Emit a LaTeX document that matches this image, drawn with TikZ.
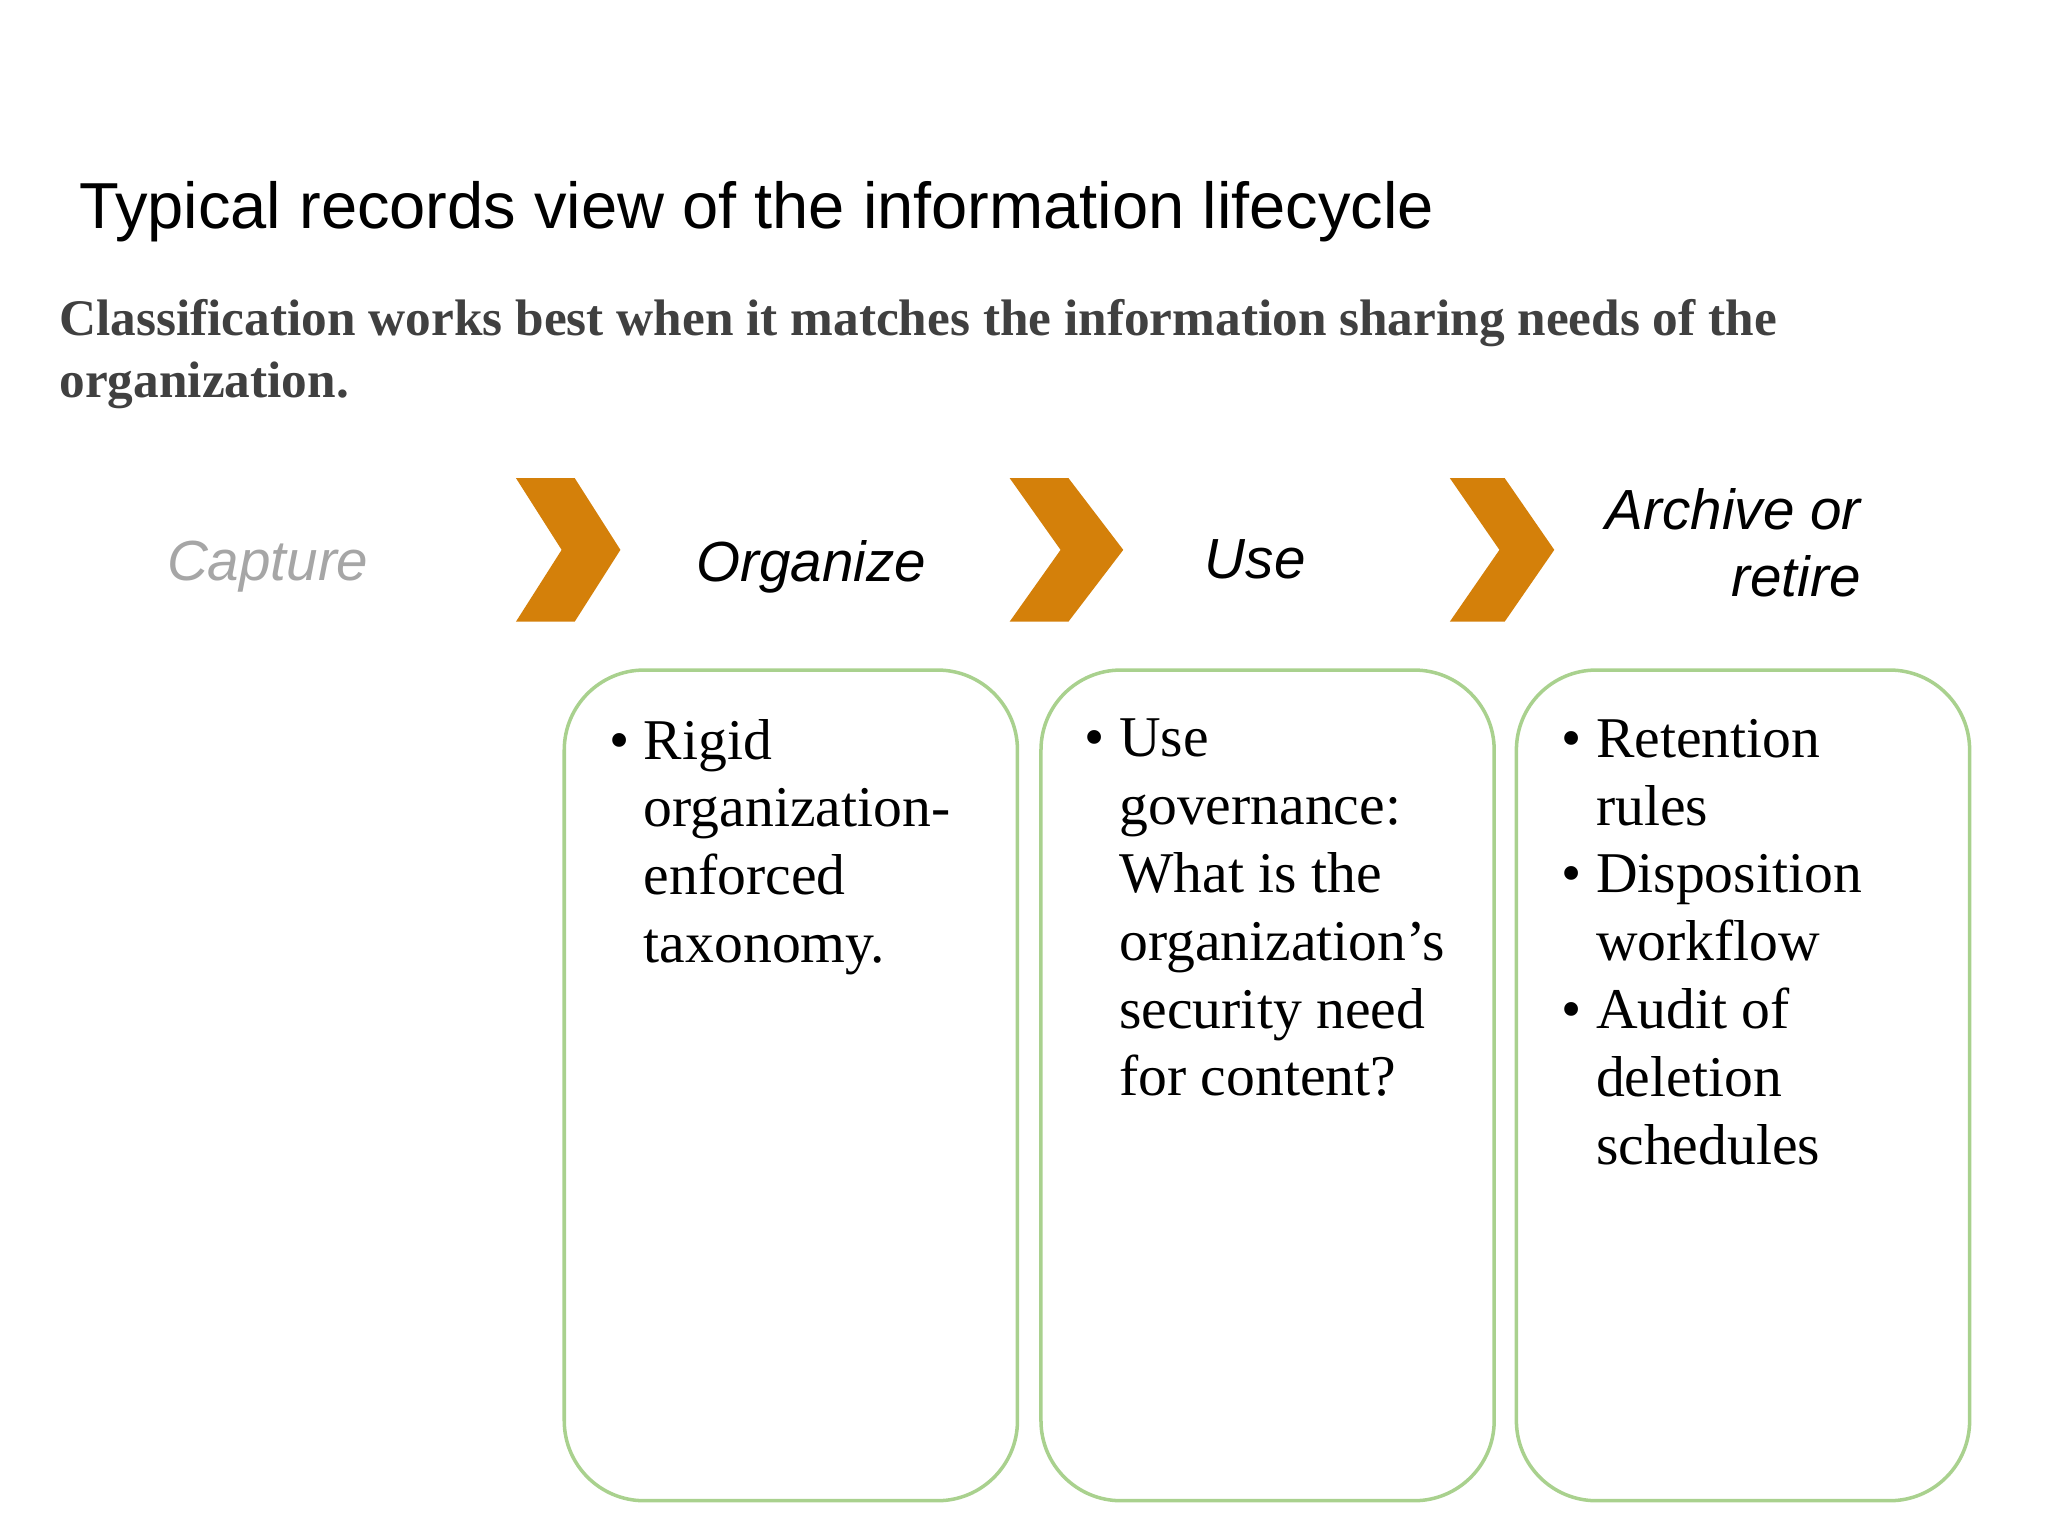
\documentclass[tikz,border=0pt]{standalone}
\usepackage{fontspec}
\setmainfont{Liberation Serif}
\setsansfont{Liberation Sans}
\newcommand{\ind}{\phantom{\textbullet\ }}
\begin{document}
\begin{tikzpicture}[x=0.013061cm,y=-0.013061cm,
  chev/.style={fill={rgb,255:red,212;green,128;blue,10},draw=none},
  box/.style={draw={rgb,255:red,169;green,209;blue,142},line width=1pt,rounded corners=0.8cm},
  lab/.style={font=\sffamily\itshape\fontsize{16.1}{19.3}\selectfont},
  btxt/.style={anchor=north west,align=left,inner sep=0pt,font=\fontsize{16.4}{19.3}\selectfont}]
\useasboundingbox (0,0) rectangle (1568,1176);
\node[anchor=base west,inner sep=0pt,font=\sffamily\fontsize{18.5}{22}\selectfont] (title) at (60,175) {Typical records view of the information lifecycle};
\node[anchor=base west,inner sep=0pt,align=left,text={rgb,255:red,64;green,64;blue,64},font=\bfseries\fontsize{14.6}{17.4}\selectfont] (sub) at (45,304) {Classification works best when it matches the information sharing needs of the\\organization.};
\fill[chev] (395,366) -- (440,366) -- (475,421) -- (440,476) -- (395,476) -- (430,421) -- cycle;
\fill[chev] (773,366) -- (818,366) -- (860,421) -- (818,476) -- (773,476) -- (812,421) -- cycle;
\fill[chev] (1110,366) -- (1152,366) -- (1190,421) -- (1152,476) -- (1110,476) -- (1148,421) -- cycle;
\node[lab,text={rgb,255:red,166;green,166;blue,166}] (cap) at (205,434) {Capture};
\node[lab] (org) at (621,434) {Organize};
\node[lab] (use) at (961,428) {Use};
\node[lab,anchor=base east,align=right,inner sep=0pt] (arc) at (1425,457) {Archive or\\retire};
\draw[box] (432,513) rectangle (779,1149);
\draw[box] (797,513) rectangle (1144,1149);
\draw[box] (1161,513) rectangle (1508,1149);
\node[btxt] (t1) at (466,550) {\textbullet\ Rigid\\\ind organization-\\\ind enforced\\\ind taxonomy.};
\node[btxt] (t2) at (830,550) {\textbullet\ Use\\\ind governance:\\\ind What is the\\\ind organization’s\\\ind security need\\\ind for content?};
\node[btxt] (t3) at (1195,550) {\textbullet\ Retention\\\ind rules\\\textbullet\ Disposition\\\ind workflow\\\textbullet\ Audit of\\\ind deletion\\\ind schedules};
\end{tikzpicture}
\end{document}
